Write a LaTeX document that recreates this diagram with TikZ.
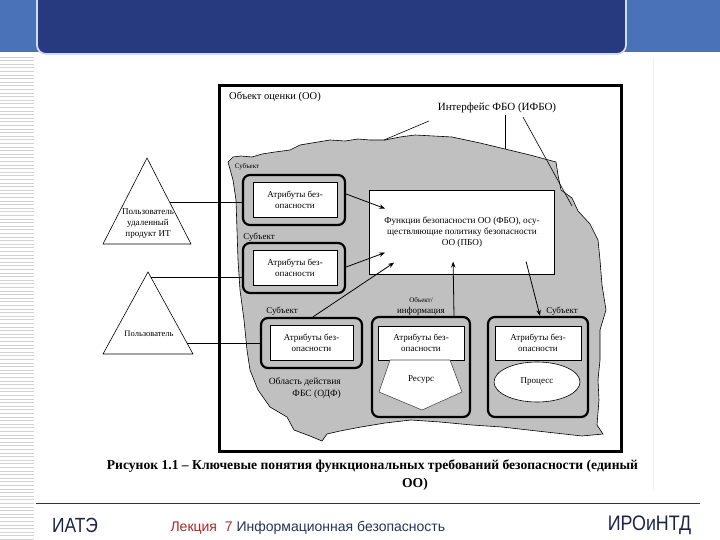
\documentclass[tikz,border=0pt]{standalone}
\usepackage{fontspec}
\setmainfont{Liberation Serif}
\newfontfamily\sansf{Liberation Sans}
\usetikzlibrary{arrows.meta,shapes.geometric}
\definecolor{navy}{RGB}{39,58,128}
\definecolor{hdrlight}{RGB}{74,114,184}
\definecolor{blobgray}{RGB}{192,192,192}
\definecolor{lecred}{RGB}{170,40,40}
\definecolor{foottext}{RGB}{30,35,75}
\definecolor{lectext}{RGB}{40,50,90}
\tikzset{
  subjbox/.style={draw, line width=2.2pt, rounded corners=7pt, fill=blobgray, inner sep=0},
  attrbox/.style={draw, line width=0.8pt, fill=white, align=center, inner sep=0,
    font=\fontsize{9}{11}\selectfont},
  lbl/.style={font=\fontsize{9}{10}\selectfont, inner sep=0},
  smalllbl/.style={font=\fontsize{7}{8}\selectfont, inner sep=0},
  arr/.style={-{Stealth[length=6pt,width=4.5pt]}, line width=0.8pt},
  conn/.style={line width=0.8pt},
  thin/.style={line width=0.6pt}
}
\begin{document}
\begin{tikzpicture}[x=1pt,y=-1pt]
\useasboundingbox (0,0) rectangle (720,540);
\fill[white] (0,0) rectangle (720,540);
% header
\fill[hdrlight] (0,0) rectangle (720,52);
\draw[line width=1.8pt, draw=white!75!hdrlight, fill=navy, rounded corners=9pt]
  (37,-6) -- (37,54) -- (626,54) -- (626,-6);
% left stripes
\foreach \yy in {57,60.6,...,540} \draw[gray!35, line width=0.7pt] (0,\yy) -- (34,\yy);
% right faint line
\draw[gray!12, line width=1pt] (653,58) -- (653,490);
% footer
\draw[gray!40!black, line width=0.8pt] (36,503) -- (700,503);
\node[font=\sansf\fontsize{20.5}{20}\selectfont, text=foottext, xscale=0.85] (iate) at (75,525) {ИАТЭ};
\node[font=\sansf\fontsize{14}{15}\selectfont, text=lectext, anchor=west] (lect) at (167,528)
  {\textcolor{lecred}{Лекция\ \ 7} Информационная безопасность};
\node[font=\sansf\fontsize{21}{20}\selectfont, text=foottext, xscale=0.85] (iro) at (649.5,525) {ИРОиНТД};
% frame
\draw[line width=3pt] (219.5,86) rectangle (621.5,451);
% blob
\draw[fill=blobgray, thin] (228,162) -- (233,157) -- (241,156) -- (252,157) -- (262,154) -- (275,152)
  -- (290,150) -- (300,145) -- (312,143) -- (330,140) -- (345,141) -- (358,139) -- (370,140)
  -- (385,140) -- (400,137) -- (415,135) -- (452,137) -- (480,143) -- (505,149) -- (530,155)
  -- (556,162) -- (558,175) -- (561,190) -- (572,198) -- (578,211) -- (590,224) -- (598,240)
  -- (600,260) -- (602,285) -- (606,310) -- (600,330) -- (600,360) -- (598,380) -- (599,400)
  -- (597,425) -- (603,434) -- (582,436) -- (546,432) -- (502,427) -- (472,425) -- (440,422)
  -- (411,420) -- (385,423) -- (361,427) -- (340,431) -- (327,434) -- (322,441) -- (310,436)
  -- (294,430) -- (287,417) -- (270,407) -- (258,390) -- (250,370) -- (247,350) -- (244,320)
  -- (240,290) -- (238,260) -- (237,230) -- (236,200) -- (233,180) -- cycle;
% texts in frame
\node[font=\fontsize{10.5}{12}\selectfont, anchor=west, inner sep=0] (oo) at (229,97) {Объект оценки (ОО)};
\node[font=\fontsize{11}{12}\selectfont, inner sep=0] (ifbo) at (497,108) {Интерфейс ФБО (ИФБО)};
\coordinate (i1s) at (429,121); \coordinate (i1e) at (384,140);
\coordinate (i2s) at (505,115); \coordinate (i2e) at (505,149);
\coordinate (i3s) at (523,117); \coordinate (i3e) at (572,206);
\draw[thin] (i1s) -- (i1e);
\draw[thin] (i2s) -- (i2e);
\draw[thin] (i3s) -- (i3e);
% function box
\node[draw, fill=white, line width=0.8pt, minimum width=185, minimum height=84, align=center,
  font=\fontsize{9.2}{10.8}\selectfont, inner sep=0] (fbo) at (462,232)
  {Функции безопасности ОО (ФБО), осу-\\ществляющие политику безопасности\\ОО (ПБО)};
% subject boxes
\node[subjbox, minimum width=102, minimum height=50] (s1) at (294,200) {};
\node[attrbox, minimum width=84, minimum height=35] (a1) at (295,200) {Атрибуты без-\\опасности};
\node[subjbox, minimum width=102, minimum height=50] (s2) at (294,268) {};
\node[attrbox, minimum width=84, minimum height=35] (a2) at (295,268) {Атрибуты без-\\опасности};
\node[subjbox, minimum width=101, minimum height=50] (s3) at (311.5,343) {};
\node[attrbox, minimum width=83, minimum height=35] (a3) at (311.5,342.5) {Атрибуты без-\\опасности};
\node[subjbox, minimum width=98, minimum height=100] (s4) at (421,367) {};
\node[attrbox, minimum width=86, minimum height=34] (a4) at (421,343) {Атрибуты без-\\опасности};
\node[subjbox, minimum width=100, minimum height=100] (s5) at (538,367) {};
\node[attrbox, minimum width=86, minimum height=34] (a5) at (538,343) {Атрибуты без-\\опасности};
% resource pentagon
\draw[fill=white, thin, draw=gray!60!black] (390,360) -- (450,360) -- (462,392) -- (422,410) -- (379,392) -- cycle;
\node[lbl] (res) at (421,380) {Ресурс};
\node[draw, ellipse, fill=white, thin, minimum width=86, minimum height=40, font=\fontsize{9}{10}\selectfont] (proc) at (537,382) {Процесс};
% labels
\node[smalllbl] (sl1) at (247,167) {Субъект};
\node[lbl] (sl2) at (259,237) {Субъект};
\node[lbl] (sl3) at (282,311) {Субъект};
\node[lbl] (sl5) at (562,311) {Субъект};
\node[smalllbl] (ol) at (421,300) {Объект/};
\node[lbl] (il) at (421,311) {информация};
\node[font=\fontsize{9.5}{11.5}\selectfont, align=right, anchor=east, inner sep=0] (odf) at (341,388)
  {Область действия\\ФБС (ОДФ)};
% triangles
\coordinate (t1a) at (147,158); \coordinate (t1b) at (103,244); \coordinate (t1c) at (191,244);
\draw[fill=white, thin] (t1a) -- (t1c) -- (t1b) -- cycle;
\node[align=center, font=\fontsize{9}{11}\selectfont, inner sep=0] (u1) at (148,224)
  {Пользователь\\удаленный\\продукт ИТ};
\coordinate (t2a) at (148,272); \coordinate (t2b) at (103,354); \coordinate (t2c) at (193,354);
\draw[fill=white, thin] (t2a) -- (t2c) -- (t2b) -- cycle;
\node[font=\fontsize{8.5}{10}\selectfont, inner sep=0] (u2) at (149,334) {Пользователь};
\path (t1a) -- (t1c) coordinate[pos=0.52] (t1r);
\path (t2a) -- (t2c) coordinate[pos=0.061] (t2r1);
\path (t2a) -- (t2c) coordinate[pos=0.866] (t2r2);
\draw[conn] (t1r) -- (t1r -| s1.west);
\draw[conn] (t2r1) -- (t2r1 -| s2.west);
\draw[conn] (t2r2) -- (t2r2 -| s3.west);
% arrows
\draw[arr] ([yshift=6pt]s1.east) -- ([xshift=16pt,yshift=-19pt]fbo.north west);
\draw[arr] ([yshift=1pt]s2.east) -- ([xshift=16pt,yshift=-63pt]fbo.north west);
\draw[arr] ([xshift=1.5pt]s3.north) -- ([xshift=25pt,yshift=-73pt]fbo.north west);
\draw[arr] ([xshift=33pt]s4.north) -- ([xshift=84pt,yshift=-72pt]fbo.north west);
\draw[arr] ([xshift=157pt,yshift=-72pt]fbo.north west) -- ([xshift=2pt]s5.north);
% caption
\node[font=\bfseries\fontsize{13.6}{15}\selectfont, inner sep=0] (cap1) at (372.5,466)
  {Рисунок 1.1 – Ключевые понятия функциональных требований безопасности (единый};
\node[font=\bfseries\fontsize{13.6}{15}\selectfont, inner sep=0] (cap2) at (415,484) {ОО)};
\end{tikzpicture}
\end{document}
